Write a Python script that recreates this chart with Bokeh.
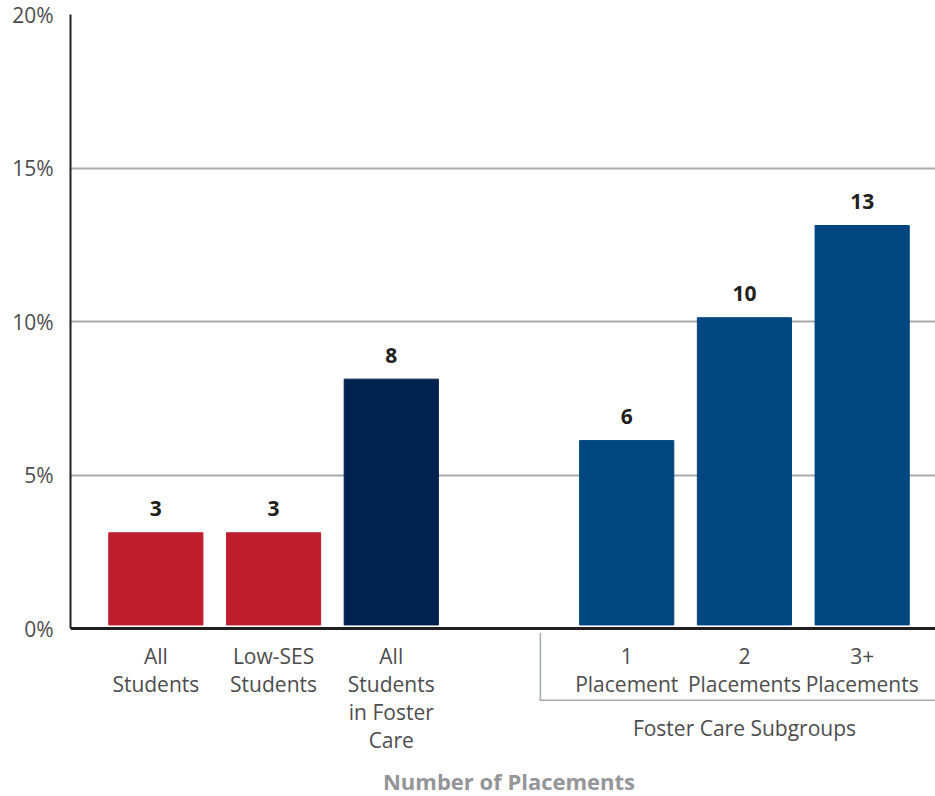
from bokeh.plotting import figure
from bokeh.models import (Range1d, FixedTicker, PrintfTickFormatter, Label,
                          BoxAnnotation, ColumnDataSource, LinearAxis)
from bokeh.embed import file_html
from bokeh.resources import INLINE
from bokeh.core.properties import value

# --- data -------------------------------------------------------------
overall_groups = ["All\nStudents", "Low-SES\nStudents", "All\nStudents\nin Foster\nCare"]
overall_rates = [3, 3, 8]
subgroups = ["1\nPlacement", "2\nPlacements", "3+\nPlacements"]
subgroup_rates = [6, 10, 13]
y_ticks = [0, 5, 10, 15, 20]
subgroup_title = "Foster Care Subgroups"
x_title = "Number of Placements"

# --- styling ----------------------------------------------------------
RED = "#BE1E2D"
NAVY = "#00224E"
BLUE = "#00467F"
INK = "#231F20"
TICK_TEXT = "#4D4D4F"
GRID = "#A7A9AC"
TITLE_GRAY = "#939598"
FONT = "Open Sans"
BAR_WIDTH = 0.8
BAR_LIFT = 0.13          # bars float slightly above the baseline

W, H = 935, 796
TOP, LEFT = 14, 70
ZERO_PX = 628.4          # canvas row of the 0% baseline
X_START, X_END = -0.725, 6.623
Y_TOP = 20
px_per_y = (ZERO_PX - TOP) / Y_TOP
px_per_x = (W - LEFT) / (X_END - X_START)
Y_BOTTOM = -(H - ZERO_PX) / px_per_y   # room under the baseline for the labels

# slot layout: three overall bars, an empty slot, then the three subgroups
labels = overall_groups + subgroups
rates = overall_rates + subgroup_rates
xs = list(range(len(overall_groups))) + [len(overall_groups) + 1 + i for i in range(len(subgroups))]
colors = [RED, RED, NAVY] + [BLUE] * len(subgroups)

src = ColumnDataSource(dict(
    x=xs,
    bottom=[BAR_LIFT] * len(rates),
    top=[r + BAR_LIFT for r in rates],
    color=colors,
    txt=[str(r) for r in rates],
))

p = figure(width=W, height=H, output_backend="svg", toolbar_location=None,
           x_range=Range1d(X_START, X_END), y_range=Range1d(Y_BOTTOM, Y_TOP),
           x_axis_type=None,
           min_border_top=TOP, min_border_bottom=0, min_border_left=LEFT,
           min_border_right=0)
p.outline_line_color = None
p.background_fill_color = "white"
p.border_fill_color = "white"

p.vbar(x="x", bottom="bottom", top="top", width=BAR_WIDTH, color="color", source=src)

p.text(x="x", y="top", text="txt", source=src, text_align="center",
       text_baseline="alphabetic", y_offset=-24,
       text_font=value(FONT), text_font_style="bold", text_font_size="21px",
       text_color=INK)

# y axis and grid
p.yaxis.ticker = FixedTicker(ticks=y_ticks)
p.yaxis.bounds = (0, Y_TOP)
p.yaxis.formatter = PrintfTickFormatter(format="%d%%")
p.yaxis.axis_line_color = INK
p.yaxis.axis_line_width = 2
p.yaxis.major_tick_line_color = None
p.yaxis.minor_tick_line_color = None
p.yaxis.major_label_standoff = 11
p.yaxis.major_label_text_font = FONT
p.yaxis.major_label_text_font_size = "21px"
p.yaxis.major_label_text_color = TICK_TEXT

p.ygrid.ticker = FixedTicker(ticks=y_ticks[1:])
p.ygrid.grid_line_color = GRID
p.ygrid.grid_line_width = 2

# x axis pinned to the 0% baseline, with multi-line category labels
xaxis = LinearAxis(fixed_location=0, ticker=FixedTicker(ticks=xs),
                   major_label_overrides={x: lab for x, lab in zip(xs, labels)})
xaxis.axis_line_color = INK
xaxis.axis_line_width = 3
xaxis.major_tick_line_color = None
xaxis.minor_tick_line_color = None
xaxis.major_label_standoff = 7
xaxis.major_label_text_font = FONT
xaxis.major_label_text_font_size = "21px"
xaxis.major_label_text_line_height = 1.0
xaxis.major_label_text_color = TICK_TEXT
p.add_layout(xaxis, "below")

# bracket grouping the foster-care subgroups
sub_x = xs[len(overall_groups):]
bracket_left = sub_x[0] - BAR_WIDTH / 2 - 40 / px_per_x
bracket_bottom = -72 / px_per_y
line_px = 1.5
p.add_layout(BoxAnnotation(left=bracket_left, right=bracket_left + line_px / px_per_x,
                           top=-4 / px_per_y, bottom=bracket_bottom,
                           fill_color=GRID, fill_alpha=1, line_color=None))
p.add_layout(BoxAnnotation(left=bracket_left, right=X_END,
                           top=bracket_bottom + line_px / px_per_y, bottom=bracket_bottom,
                           fill_color=GRID, fill_alpha=1, line_color=None))

p.add_layout(Label(x=sum(sub_x) / len(sub_x), y=-99 / px_per_y, text=subgroup_title,
                   text_align="center", text_baseline="middle",
                   text_font=FONT, text_font_size="21px", text_color=TICK_TEXT))

p.add_layout(Label(x=(X_START + X_END) / 2 + 6 / px_per_x, y=-152 / px_per_y, text=x_title,
                   text_align="center", text_baseline="middle",
                   text_font=FONT, text_font_style="bold", text_font_size="22px",
                   text_color=TITLE_GRAY))

open("out.html", "w").write(file_html(p, INLINE))
